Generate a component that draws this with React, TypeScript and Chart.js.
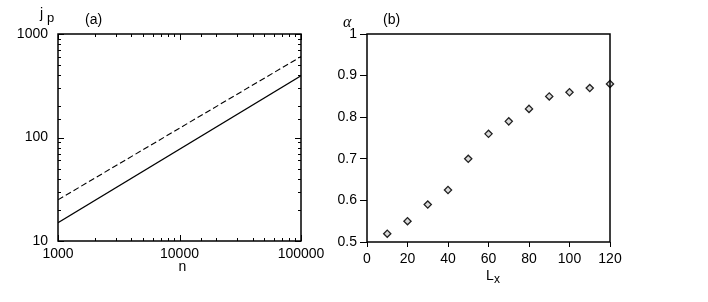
import { useEffect, useRef } from 'react';
import { Chart, registerables } from 'chart.js';
Chart.register(...registerables);

// Panel (a): j_p versus n (log-log)
const nValues = [1000, 100000];
const jpSolid = [15, 395];
const jpDashed = [25, 605];
const nTickLabels = [1000, 10000, 100000];
const jpTickLabels = [10, 100, 1000];

// Panel (b): alpha versus L_x
const lxValues = [10, 20, 30, 40, 50, 60, 70, 80, 90, 100, 110, 120];
const alphaValues = [0.52, 0.55, 0.59, 0.625, 0.7, 0.76, 0.79, 0.82, 0.85, 0.86, 0.87, 0.88];
const lxTicks = [0, 20, 40, 60, 80, 100, 120];
const alphaTicks = [0.5, 0.6, 0.7, 0.8, 0.9, 1];

const FONT = "'Liberation Sans', Arial, Helvetica, sans-serif";
const TICK_FONT = { family: FONT, size: 14 };

const isDecade = (v: number) => Math.abs(Math.log10(v) - Math.round(Math.log10(v))) < 1e-9;

const frameA = {
  id: 'frameA',
  afterDraw(chart: any) {
    const { ctx, chartArea: a, scales } = chart;
    ctx.save();
    ctx.strokeStyle = '#000';
    ctx.lineWidth = 1;
    const seg = (x1: number, y1: number, x2: number, y2: number) => {
      ctx.beginPath();
      ctx.moveTo(x1, y1);
      ctx.lineTo(x2, y2);
      ctx.stroke();
    };
    for (const t of scales.x.ticks) {
      const px = Math.round(scales.x.getPixelForValue(t.value)) + 0.5;
      const L = isDecade(t.value) ? 6 : 3;
      seg(px, a.bottom, px, a.bottom - L);
      seg(px, a.top, px, a.top + L);
    }
    for (const t of scales.y.ticks) {
      const py = Math.round(scales.y.getPixelForValue(t.value)) + 0.5;
      const L = isDecade(t.value) ? 6 : 3;
      seg(a.left, py, a.left + L, py);
      seg(a.right, py, a.right - L, py);
    }
    ctx.lineWidth = 1.5;
    ctx.strokeRect(a.left, a.top, a.right - a.left, a.bottom - a.top);
    ctx.fillStyle = '#000';
    ctx.textBaseline = 'alphabetic';
    ctx.textAlign = 'left';
    ctx.font = `14px ${FONT}`;
    ctx.fillText('j', 40, 18);
    ctx.font = `13px ${FONT}`;
    ctx.fillText('p', 47, 22);
    ctx.font = `14px ${FONT}`;
    ctx.fillText('(a)', 85, 24);
    ctx.textAlign = 'center';
    ctx.fillText('n', (a.left + a.right) / 2 + 3, 271);
    ctx.restore();
  },
};

const frameB = {
  id: 'frameB',
  afterDraw(chart: any) {
    const { ctx, chartArea: a } = chart;
    ctx.save();
    ctx.strokeStyle = '#000';
    ctx.lineWidth = 1.5;
    ctx.strokeRect(a.left, a.top, a.right - a.left, a.bottom - a.top);
    ctx.fillStyle = '#000';
    ctx.textBaseline = 'alphabetic';
    ctx.textAlign = 'left';
    ctx.font = `italic 16px 'Liberation Serif', 'DejaVu Serif', serif`;
    ctx.fillText('α', 43, 27);
    ctx.font = `14px ${FONT}`;
    ctx.fillText('(b)', 83, 24);
    ctx.fillText('L', 186, 280);
    ctx.font = `12px ${FONT}`;
    ctx.fillText('x', 194, 283);
    ctx.restore();
  },
};

function PanelA() {
  const ref = useRef<HTMLCanvasElement>(null);
  useEffect(() => {
    const chart = new Chart(ref.current!, {
      type: 'line',
      data: {
        datasets: [
          {
            data: nValues.map((n, i) => ({ x: n, y: jpSolid[i] })),
            borderColor: '#000',
            borderWidth: 1.3,
            pointRadius: 0,
          },
          {
            data: nValues.map((n, i) => ({ x: n, y: jpDashed[i] })),
            borderColor: '#000',
            borderWidth: 1.1,
            borderDash: [6, 3],
            pointRadius: 0,
          },
        ],
      },
      options: {
        responsive: false,
        animation: false,
        devicePixelRatio: 1,
        layout: { padding: { left: 0, right: 39, top: 34, bottom: 0 } },
        plugins: { legend: { display: false }, tooltip: { enabled: false } },
        scales: {
          x: {
            type: 'logarithmic',
            min: 1000,
            max: 100000,
            grid: { display: false, drawTicks: false },
            border: { display: false },
            afterFit: (s: any) => { s.height = 61; },
            ticks: {
              autoSkip: false,
              maxRotation: 0,
              padding: 5,
              color: '#000',
              font: TICK_FONT,
              callback: (v: any) => (nTickLabels.includes(Number(v)) ? String(v) : ''),
            },
          },
          y: {
            type: 'logarithmic',
            min: 10,
            max: 1000,
            grid: { display: false, drawTicks: false },
            border: { display: false },
            afterFit: (s: any) => { s.width = 58; },
            ticks: {
              autoSkip: false,
              padding: 10,
              color: '#000',
              font: TICK_FONT,
              callback: (v: any) => (jpTickLabels.includes(Number(v)) ? String(v) : ''),
            },
          },
        },
      },
      plugins: [frameA],
    } as any);
    return () => chart.destroy();
  }, []);
  return <canvas ref={ref} width={340} height={302} style={{ position: 'absolute', left: 0, top: 0 }} />;
}

function PanelB() {
  const ref = useRef<HTMLCanvasElement>(null);
  useEffect(() => {
    const chart = new Chart(ref.current!, {
      type: 'scatter',
      data: {
        datasets: [
          {
            data: lxValues.map((x, i) => ({ x, y: alphaValues[i] })),
            pointStyle: 'rectRot',
            pointRadius: 3.6,
            borderColor: '#222',
            borderWidth: 1.3,
            backgroundColor: '#dadada',
            clip: false,
          },
        ],
      },
      options: {
        responsive: false,
        animation: false,
        devicePixelRatio: 1,
        layout: { padding: { left: 0, right: 98, top: 34, bottom: 0 } },
        plugins: { legend: { display: false }, tooltip: { enabled: false } },
        scales: {
          x: {
            type: 'linear',
            min: 0,
            max: 120,
            afterFit: (s: any) => { s.height = 60; },
            afterBuildTicks: (s: any) => { s.ticks = lxTicks.map((v) => ({ value: v })); },
            grid: { drawOnChartArea: false, drawTicks: true, tickLength: 5, color: '#000', lineWidth: 1 },
            border: { display: false },
            ticks: {
              autoSkip: false,
              maxRotation: 0,
              padding: 4,
              color: '#000',
              font: TICK_FONT,
              callback: (v: any) => String(v),
            },
          },
          y: {
            type: 'linear',
            min: 0.5,
            max: 1,
            afterFit: (s: any) => { s.width = 67; },
            afterBuildTicks: (s: any) => { s.ticks = alphaTicks.map((v) => ({ value: v })); },
            grid: { drawOnChartArea: false, drawTicks: true, tickLength: 7, color: '#000', lineWidth: 1 },
            border: { display: false },
            ticks: {
              autoSkip: false,
              padding: 3,
              color: '#000',
              font: TICK_FONT,
              callback: (v: any) => String(Math.round(Number(v) * 10) / 10),
            },
          },
        },
      },
      plugins: [frameB],
    } as any);
    return () => chart.destroy();
  }, []);
  return <canvas ref={ref} width={408} height={302} style={{ position: 'absolute', left: 300, top: 0 }} />;
}

export default function App() {
  return (
    <div style={{ position: 'fixed', left: 0, top: 0, width: 708, height: 302, background: '#fff' }}>
      <PanelA />
      <PanelB />
    </div>
  );
}
